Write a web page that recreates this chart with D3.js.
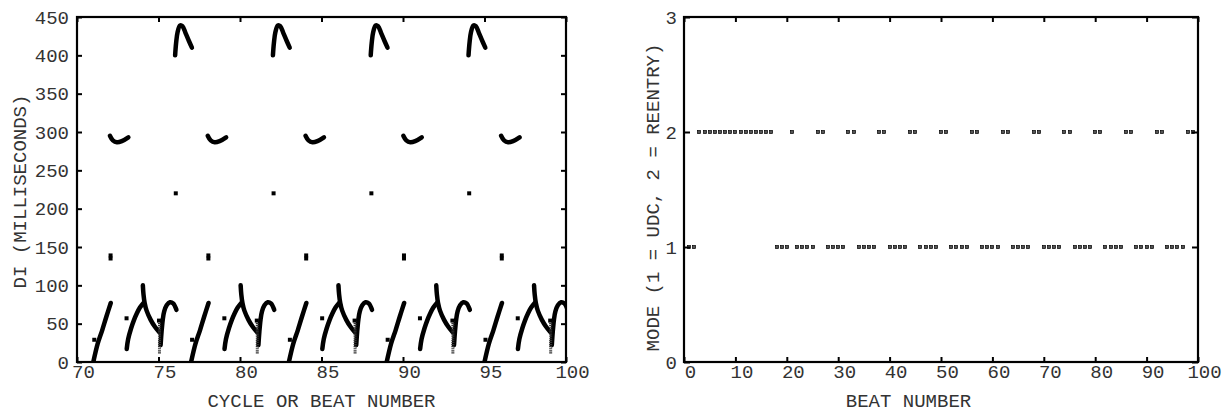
<!DOCTYPE html>
<html>
<head>
<meta charset="utf-8">
<title>DI and mode vs beat number</title>
<script src="https://d3js.org/d3.v7.min.js"></script>
<style>
  body { margin: 0; background: #fff; }
  text { font-family: "Liberation Mono", "DejaVu Sans Mono", monospace; }
</style>
</head>
<body>
<svg width="1231" height="414"></svg>
<script>
// ---- left panel: DI (ms) vs cycle / beat number, one array of segments per feature ----
// rising line at the start of each 6-beat block
var rampA = [
  [[71.0, 0], [71.27, 24], [71.54, 41], [71.8, 59], [72.07, 77]],
  [[77.0, 0], [77.27, 24], [77.54, 41], [77.8, 59], [78.07, 77]],
  [[83.0, 0], [83.27, 24], [83.54, 41], [83.8, 59], [84.07, 77]],
  [[89.0, 0], [89.27, 24], [89.54, 41], [89.8, 59], [90.07, 77]],
  [[95.0, 0], [95.27, 24], [95.54, 41], [95.8, 59], [96.07, 77]]
];
// shallow dip near 290 ms
var ridgeH = [
  [[72.02, 295], [72.2, 289], [72.45, 286.5], [72.75, 288], [73.15, 293]],
  [[78.02, 295], [78.2, 289], [78.45, 286.5], [78.75, 288], [79.15, 293]],
  [[84.02, 295], [84.2, 289], [84.45, 286.5], [84.75, 288], [85.15, 293]],
  [[90.02, 295], [90.2, 289], [90.45, 286.5], [90.75, 288], [91.15, 293]],
  [[96.02, 295], [96.2, 289], [96.45, 286.5], [96.75, 288], [97.15, 293]]
];
// second rising curve (left leg of the lambda)
var riseC = [
  [[73.05, 17], [73.14, 30], [73.32, 44], [73.5, 55], [73.66, 63], [73.86, 71], [74.08, 77]],
  [[79.05, 17], [79.14, 30], [79.32, 44], [79.5, 55], [79.66, 63], [79.86, 71], [80.08, 77]],
  [[85.05, 17], [85.14, 30], [85.32, 44], [85.5, 55], [85.66, 63], [85.86, 71], [86.08, 77]],
  [[91.05, 17], [91.14, 30], [91.32, 44], [91.5, 55], [91.66, 63], [91.86, 71], [92.08, 77]],
  [[97.05, 17], [97.14, 30], [97.32, 44], [97.5, 55], [97.66, 63], [97.86, 71], [98.08, 77]]
];
// falling curve from 100 ms (right leg of the lambda)
var fallD = [
  [[74.04, 100], [74.08, 88], [74.15, 77], [74.27, 67], [74.52, 55], [74.78, 46], [75.04, 39]],
  [[80.04, 100], [80.08, 88], [80.15, 77], [80.27, 67], [80.52, 55], [80.78, 46], [81.04, 39]],
  [[86.04, 100], [86.08, 88], [86.15, 77], [86.27, 67], [86.52, 55], [86.78, 46], [87.04, 39]],
  [[92.04, 100], [92.08, 88], [92.15, 77], [92.27, 67], [92.52, 55], [92.78, 46], [93.04, 39]],
  [[98.04, 100], [98.08, 88], [98.15, 77], [98.27, 67], [98.52, 55], [98.78, 46], [99.04, 39]]
];
// hook after the lambda
var hookF = [
  [[75.13, 22], [75.19, 40], [75.26, 55], [75.35, 66], [75.5, 74], [75.7, 78], [75.9, 76.5], [76.1, 68]],
  [[81.13, 22], [81.19, 40], [81.26, 55], [81.35, 66], [81.5, 74], [81.7, 78], [81.9, 76.5], [82.1, 68]],
  [[87.13, 22], [87.19, 40], [87.26, 55], [87.35, 66], [87.5, 74], [87.7, 78], [87.9, 76.5], [88.1, 68]],
  [[93.13, 22], [93.19, 40], [93.26, 55], [93.35, 66], [93.5, 74], [93.7, 78], [93.9, 76.5], [94.1, 68]],
  [[99.13, 22], [99.19, 40], [99.26, 55], [99.35, 66], [99.5, 74], [99.7, 78], [99.9, 76.5], [100.1, 68]]
];
// arches between 400 and 440 ms
var archG = [
  [[76.02, 400], [76.08, 416], [76.17, 430], [76.32, 439], [76.47, 438], [76.66, 429], [76.86, 419], [77.05, 410]],
  [[82.02, 400], [82.08, 416], [82.17, 430], [82.32, 439], [82.47, 438], [82.66, 429], [82.86, 419], [83.05, 410]],
  [[88.02, 400], [88.08, 416], [88.17, 430], [88.32, 439], [88.47, 438], [88.66, 429], [88.86, 419], [89.05, 410]],
  [[94.02, 400], [94.08, 416], [94.17, 430], [94.32, 439], [94.47, 438], [94.66, 429], [94.86, 419], [95.05, 410]]
];
// dotted vertical runs [x, yLow, yHigh]
var columnE = [[75.06, 11, 54], [81.06, 11, 54], [87.06, 11, 54], [93.06, 11, 54], [99.06, 11, 54]];
// isolated points
var dotsX = [71.06, 72.06, 72.06, 73.04, 75.03, 76.06,
             77.06, 78.06, 78.06, 79.04, 81.03, 82.06,
             83.06, 84.06, 84.06, 85.04, 87.03, 88.06,
             89.06, 90.06, 90.06, 91.04, 93.03, 94.06,
             95.06, 96.06, 96.06, 97.04, 99.03];
var dotsY = [29, 135, 139, 57, 54, 220,
             29, 135, 139, 57, 54, 220,
             29, 135, 139, 57, 54, 220,
             29, 135, 139, 57, 54, 220,
             29, 135, 139, 57, 54];

var leftXTicks = [70, 75, 80, 85, 90, 95, 100];
var leftYTicks = [0, 50, 100, 150, 200, 250, 300, 350, 400, 450];

// ---- right panel: mode (1 = UDC, 2 = reentry) for beats 1..99 ----
var modes = [
  1, 1, 2, 2, 2, 2, 2, 2, 2, 2,
  2, 2, 2, 2, 2, 2, 2, 1, 1, 1,
  2, 1, 1, 1, 1, 2, 2, 1, 1, 1,
  1, 2, 2, 1, 1, 1, 1, 2, 2, 1,
  1, 1, 1, 2, 2, 1, 1, 1, 1, 2,
  2, 1, 1, 1, 1, 2, 2, 1, 1, 1,
  1, 2, 2, 1, 1, 1, 1, 2, 2, 1,
  1, 1, 1, 2, 2, 1, 1, 1, 1, 2,
  2, 1, 1, 1, 1, 2, 2, 1, 1, 1,
  1, 2, 2, 1, 1, 1, 1, 2, 2
];
var rightXTicks = [0, 10, 20, 30, 40, 50, 60, 70, 80, 90, 100];
var rightYTicks = [0, 1, 2, 3];

var svg = d3.select("svg");
svg.append("rect").attr("width", 1231).attr("height", 414).attr("fill", "#fff");

var fontSize = 19;
var textColor = "#333";

// ---------------- left panel ----------------
var xL = d3.scaleLinear().domain([70, 100]).range([77, 566]);
var yL = d3.scaleLinear().domain([0, 450]).range([362, 17]);

svg.append("clipPath").attr("id", "clipL")
  .append("rect").attr("x", 77).attr("y", 17).attr("width", 489).attr("height", 345);

var gL = svg.append("g").attr("clip-path", "url(#clipL)");
var lineL = d3.line()
  .x(function (d) { return xL(d[0]); })
  .y(function (d) { return yL(d[1]); })
  .curve(d3.curveCatmullRom);

[rampA, ridgeH, riseC, fallD, hookF, archG].forEach(function (feature) {
  gL.selectAll(null)
    .data(feature)
    .enter()
    .append("path")
    .attr("d", lineL)
    .attr("fill", "none")
    .attr("stroke", "#000")
    .attr("stroke-width", 4.5)
    .attr("stroke-linecap", "round")
    .attr("stroke-linejoin", "round");
});

gL.selectAll(".colE")
  .data(columnE)
  .enter()
  .append("line")
  .attr("x1", function (d) { return xL(d[0]); })
  .attr("x2", function (d) { return xL(d[0]); })
  .attr("y1", function (d) { return yL(d[1]); })
  .attr("y2", function (d) { return yL(d[2]); })
  .attr("stroke", "#333")
  .attr("stroke-width", 3)
  .attr("stroke-dasharray", "1.2,0.9");

gL.selectAll(".dotL")
  .data(dotsX)
  .enter()
  .append("rect")
  .attr("x", function (d) { return xL(d) - 2; })
  .attr("y", function (d, i) { return yL(dotsY[i]) - 2; })
  .attr("width", 4)
  .attr("height", 4)
  .attr("fill", "#000");

function styleAxis(g) {
  g.select(".domain").remove();
  g.selectAll(".tick line").attr("stroke", "#000").attr("stroke-width", 2);
  g.selectAll("text").style("font-size", fontSize + "px").attr("fill", textColor);
}

svg.append("g").attr("transform", "translate(0,362)")
  .call(d3.axisBottom(xL).tickValues(leftXTicks).tickSize(-5).tickPadding(3))
  .call(styleAxis)
  .selectAll("text").attr("dx", 6);
svg.append("g").attr("transform", "translate(0,17)")
  .call(d3.axisTop(xL).tickValues(leftXTicks).tickSize(-5).tickFormat(""))
  .call(styleAxis);
svg.append("g").attr("transform", "translate(77,0)")
  .call(d3.axisLeft(yL).tickValues(leftYTicks).tickSize(-5).tickPadding(8))
  .call(styleAxis);
svg.append("g").attr("transform", "translate(566,0)")
  .call(d3.axisRight(yL).tickValues(leftYTicks).tickSize(-5).tickFormat(""))
  .call(styleAxis);

svg.append("rect")
  .attr("x", 77).attr("y", 17).attr("width", 489).attr("height", 345)
  .attr("fill", "none").attr("stroke", "#000").attr("stroke-width", 2.2);

svg.append("text")
  .attr("x", 321.5).attr("y", 406.5)
  .attr("text-anchor", "middle")
  .attr("fill", textColor)
  .style("font-size", fontSize + "px")
  .text("CYCLE OR BEAT NUMBER");

svg.append("text")
  .attr("transform", "translate(19,191.5) rotate(-90)")
  .attr("text-anchor", "middle")
  .attr("dy", "0.35em")
  .attr("fill", textColor)
  .style("font-size", fontSize + "px")
  .text("DI (MILLISECONDS)");

// ---------------- right panel ----------------
var xR = d3.scaleLinear().domain([0, 100]).range([684, 1198]);
var yR = d3.scaleLinear().domain([0, 3]).range([362, 17]);

svg.append("g").selectAll(".pt")
  .data(modes)
  .enter()
  .append("rect")
  .attr("x", function (d, i) { return Math.round(xR(i + 1)) - 1.5; })
  .attr("y", function (d) { return Math.round(yR(d)) - 1.5; })
  .attr("width", 3)
  .attr("height", 3)
  .attr("fill", "#555")
  .attr("stroke", "#000")
  .attr("stroke-width", 0.7);

svg.append("g").attr("transform", "translate(0,362)")
  .call(d3.axisBottom(xR).tickValues(rightXTicks).tickSize(-5).tickPadding(3))
  .call(styleAxis)
  .selectAll("text").attr("dx", 6);
svg.append("g").attr("transform", "translate(0,17)")
  .call(d3.axisTop(xR).tickValues(rightXTicks).tickSize(-5).tickFormat(""))
  .call(styleAxis);
svg.append("g").attr("transform", "translate(684,0)")
  .call(d3.axisLeft(yR).tickValues(rightYTicks).tickSize(-6).tickPadding(7).tickFormat(d3.format("d")))
  .call(styleAxis);
svg.append("g").attr("transform", "translate(1198,0)")
  .call(d3.axisRight(yR).tickValues(rightYTicks).tickSize(-6).tickFormat(""))
  .call(styleAxis);

svg.append("rect")
  .attr("x", 684).attr("y", 17).attr("width", 514).attr("height", 345)
  .attr("fill", "none").attr("stroke", "#000").attr("stroke-width", 2.2);

svg.append("text")
  .attr("x", 908.5).attr("y", 406.5)
  .attr("text-anchor", "middle")
  .attr("fill", textColor)
  .style("font-size", fontSize + "px")
  .text("BEAT NUMBER");

svg.append("text")
  .attr("transform", "translate(652,197.5) rotate(-90)")
  .attr("text-anchor", "middle")
  .attr("dy", "0.35em")
  .attr("fill", textColor)
  .style("font-size", fontSize + "px")
  .text("MODE (1 = UDC, 2 = REENTRY)");
</script>
</body>
</html>
